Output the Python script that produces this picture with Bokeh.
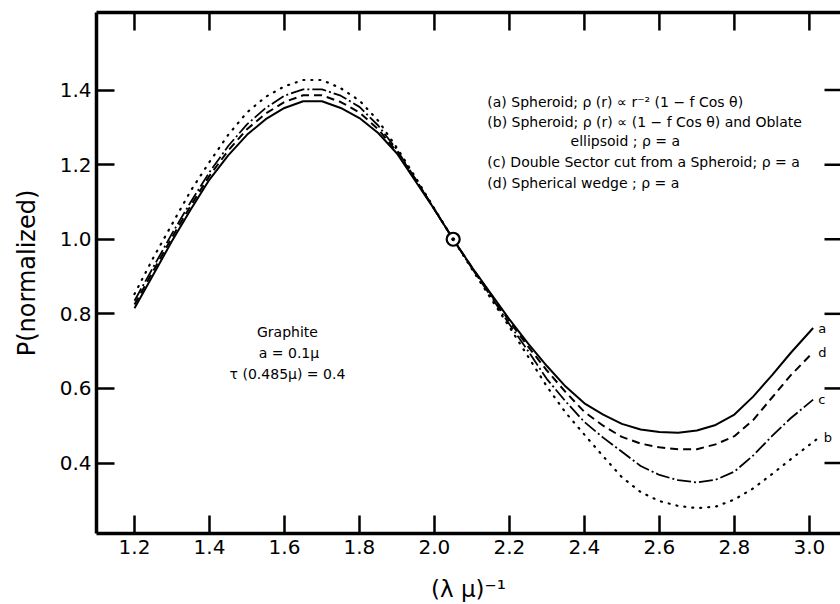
import math
from bokeh.plotting import figure
from bokeh.models import LinearAxis, FixedTicker, Label, Range1d, PrintfTickFormatter
from bokeh.core.properties import value
from bokeh.embed import file_html
from bokeh.resources import INLINE

# ---- data ----
inv_wavelength = [1.20, 1.25, 1.30, 1.35, 1.40, 1.45, 1.50, 1.55, 1.60, 1.65,
                  1.70, 1.75, 1.80, 1.85, 1.90, 1.95, 2.00, 2.05, 2.10, 2.15,
                  2.20, 2.25, 2.30, 2.35, 2.40, 2.45, 2.50, 2.55, 2.60, 2.65,
                  2.70, 2.75, 2.80, 2.85, 2.90, 2.95]

# (a) solid
p_a = [0.815, 0.905, 0.995, 1.08, 1.16, 1.225, 1.28, 1.322, 1.352, 1.370,
       1.370, 1.352, 1.325, 1.285, 1.23, 1.155, 1.08, 1.0, 0.925, 0.855,
       0.785, 0.72, 0.66, 0.605, 0.56, 0.53, 0.505, 0.49, 0.483, 0.481,
       0.487, 0.502, 0.53, 0.578, 0.635, 0.695]
end_a = (3.01, 0.762)

# (b) dotted
p_b = [0.853, 0.95, 1.04, 1.13, 1.207, 1.28, 1.34, 1.382, 1.41, 1.427,
       1.427, 1.405, 1.372, 1.318, 1.245, 1.165, 1.082, 1.0, 0.92, 0.842,
       0.765, 0.685, 0.605, 0.535, 0.476, 0.418, 0.362, 0.322, 0.298, 0.285,
       0.279, 0.283, 0.302, 0.332, 0.37, 0.41]
end_b = (3.025, 0.468)

# (c) dash-dot
p_c = [0.835, 0.925, 1.015, 1.10, 1.18, 1.25, 1.308, 1.352, 1.385, 1.402,
       1.402, 1.385, 1.355, 1.305, 1.24, 1.16, 1.08, 1.0, 0.922, 0.848,
       0.772, 0.70, 0.625, 0.565, 0.51, 0.468, 0.43, 0.392, 0.368, 0.354,
       0.348, 0.355, 0.377, 0.42, 0.472, 0.52]
end_c = (3.01, 0.57)

# (d) dashed
p_d = [0.825, 0.915, 1.005, 1.09, 1.17, 1.238, 1.295, 1.337, 1.368, 1.386,
       1.386, 1.368, 1.34, 1.295, 1.235, 1.16, 1.08, 1.0, 0.925, 0.852,
       0.78, 0.712, 0.648, 0.59, 0.537, 0.50, 0.47, 0.452, 0.442, 0.437,
       0.437, 0.45, 0.472, 0.515, 0.575, 0.635]
end_d = (3.01, 0.697)

norm_point_x = [2.05]
norm_point_y = [1.0]

x_ticks = [1.2, 1.4, 1.6, 1.8, 2.0, 2.2, 2.4, 2.6, 2.8, 3.0]
y_ticks = [0.4, 0.6, 0.8, 1.0, 1.2, 1.4]

legend_lines = [
    "(a) Spheroid; \u03c1 (r) \u221d r\u207b\u00b2 (1 \u2212 f Cos \u03b8)",
    "(b) Spheroid; \u03c1 (r) \u221d (1 \u2212 f Cos \u03b8) and Oblate",
    "ellipsoid ; \u03c1 = a",
    "(c) Double Sector cut from a Spheroid; \u03c1 = a",
    "(d) Spherical wedge ; \u03c1 = a",
]
note_lines = ["Graphite", "a = 0.1\u03bc", "\u03c4 (0.485\u03bc) = 0.4"]

FONT = "DejaVu Sans"
X0, X1 = 1.0987, 3.083
Y0, Y1 = 0.211, 1.608

p = figure(width=840, height=604, output_backend="svg", toolbar_location=None,
           x_range=Range1d(X0, X1), y_range=Range1d(Y0, Y1),
           min_border_left=96, min_border_right=0, min_border_top=12,
           min_border_bottom=71)
p.xgrid.visible = False
p.ygrid.visible = False
p.outline_line_color = None
p.background_fill_color = "white"
p.border_fill_color = "white"


def style(ax, ticks):
    ax.ticker = FixedTicker(ticks=ticks)
    ax.minor_tick_line_color = None
    ax.major_tick_in = 18
    ax.major_tick_out = 0
    ax.major_tick_line_width = 2.5
    ax.major_tick_line_color = "black"
    ax.axis_line_width = 3.5
    ax.axis_line_color = "black"
    ax.formatter = PrintfTickFormatter(format="%.1f")
    ax.major_label_text_font = FONT
    ax.major_label_text_font_size = "20px"
    ax.major_label_text_color = "black"
    ax.axis_label_text_font = FONT
    ax.axis_label_text_font_style = "normal"
    ax.axis_label_text_color = "black"


style(p.xaxis[0], x_ticks)
p.xaxis[0].axis_label = "(\u03bb \u03bc)\u207b\u00b9"
p.xaxis[0].axis_label_text_font_size = "23px"
p.xaxis[0].major_label_standoff = 6
p.xaxis[0].axis_label_standoff = 19

style(p.yaxis[0], y_ticks)
p.yaxis[0].axis_label = "P(normalized)"
p.yaxis[0].axis_label_text_font_size = "24px"
p.yaxis[0].major_label_standoff = 5
p.yaxis[0].axis_label_standoff = 16

# top frame line (no ticks, no labels)
top_ax = LinearAxis(ticker=FixedTicker(ticks=[]), axis_line_width=3.5,
                    axis_line_color="black", major_tick_line_color=None,
                    minor_tick_line_color=None)
p.add_layout(top_ax, "above")

# inward ticks on top and right edges
p.ray(x=x_ticks, y=[Y1] * len(x_ticks), length=18, length_units="screen",
      angle=-math.pi / 2, line_color="black", line_width=2.5)
p.ray(x=[X1] * len(y_ticks), y=y_ticks, length=16, length_units="screen",
      angle=math.pi, line_color="black", line_width=2.5)

# curves
p.line(inv_wavelength + [end_a[0]], p_a + [end_a[1]], line_color="black", line_width=2)
p.line(inv_wavelength + [end_d[0]], p_d + [end_d[1]], line_color="black", line_width=2,
       line_dash="8 5")
p.line(inv_wavelength + [end_c[0]], p_c + [end_c[1]], line_color="black", line_width=1.8,
       line_dash="14 3 2 3")
p.line(inv_wavelength + [end_b[0]], p_b + [end_b[1]], line_color="black", line_width=2.2,
       line_dash="1 7", line_cap="round")

# curve end labels
for (ex, ey), name in [(end_a, "a"), (end_d, "d"), (end_c, "c"), (end_b, "b")]:
    p.text(x=[ex], y=[ey], text=[name], x_offset=5, text_align="left",
           text_baseline="middle", text_font=value(FONT), text_font_size="13px",
           text_color="black")

# normalisation point
p.scatter(norm_point_x, norm_point_y, size=13, marker="circle", fill_color="white",
          line_color="black", line_width=2.2)
p.scatter(norm_point_x, norm_point_y, size=3, marker="circle", fill_color="black",
          line_color="black")

# legend text
leg_pos = [(2.141, 1.369), (2.141, 1.3155), (2.363, 1.2646), (2.141, 1.2083), (2.141, 1.152)]
for (lx, ly), txt in zip(leg_pos, legend_lines):
    p.add_layout(Label(x=lx, y=ly, text=txt, text_font=FONT, text_font_size="14px",
                       text_baseline="middle", text_align="left", text_color="black"))

note_pos = [(1.608, 0.7526), (1.612, 0.696), (1.608, 0.640)]
for (nx, ny), txt in zip(note_pos, note_lines):
    p.add_layout(Label(x=nx, y=ny, text=txt, text_font=FONT, text_font_size="14px",
                       text_baseline="middle", text_align="center", text_color="black"))

open("out.html", "w").write(file_html(p, INLINE))
